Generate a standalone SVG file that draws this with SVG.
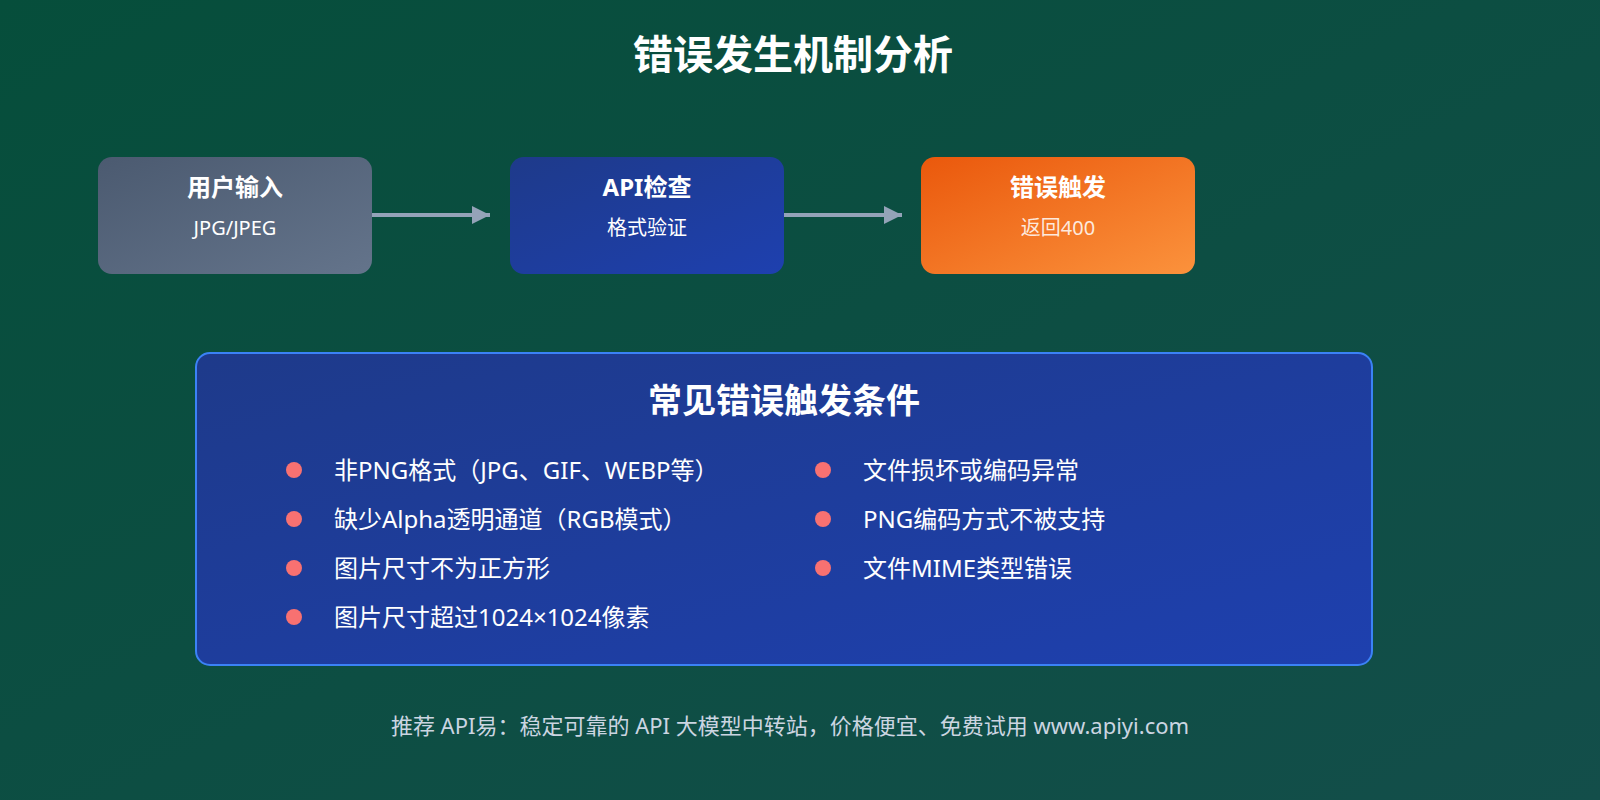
<svg xmlns="http://www.w3.org/2000/svg" width="1600" height="800" viewBox="0 0 1600 800">
<defs>
<linearGradient id="bg" x1="0" y1="0" x2="1" y2="1"><stop offset="0" stop-color="#064e3b"/><stop offset="1" stop-color="#134e4a"/></linearGradient>
<linearGradient id="g1" x1="0" y1="0" x2="1" y2="1"><stop offset="0" stop-color="#4b5a70"/><stop offset="1" stop-color="#64748b"/></linearGradient>
<linearGradient id="g2" x1="0" y1="0" x2="1" y2="1"><stop offset="0" stop-color="#1e3a8a"/><stop offset="1" stop-color="#1e40af"/></linearGradient>
<linearGradient id="g3" x1="0" y1="0" x2="1" y2="1"><stop offset="0" stop-color="#ea580c"/><stop offset="1" stop-color="#fb923c"/></linearGradient>
<marker id="ah" markerWidth="20" markerHeight="20" refX="18" refY="9" orient="auto" markerUnits="userSpaceOnUse"><path d="M0,0 L18,9 L0,18 Z" fill="#94a3b8"/></marker>
<style>
text{font-family:"Noto Sans","Noto Sans CJK SC",sans-serif;}
.t{fill:#fff;font-weight:bold;font-size:24px;text-anchor:middle}
.s{fill:#fff;font-size:20px;text-anchor:middle}
.i{fill:#fff;font-size:24px}
.d{fill:#f87171}
</style>
</defs>
<rect width="1600" height="800" fill="url(#bg)"/>
<text x="793" y="69" class="t" style="font-size:40px">错误发生机制分析</text>
<g id="connectors" stroke="#94a3b8" stroke-width="4">
<line x1="372" y1="215" x2="490" y2="215" marker-end="url(#ah)"/>
<line x1="784" y1="215" x2="902" y2="215" marker-end="url(#ah)"/>
</g>
<g id="n1"><rect x="98" y="157" width="274" height="117" rx="14" fill="url(#g1)"/><text x="235" y="196" class="t">用户输入</text><text x="235" y="235" class="s">JPG/JPEG</text></g>
<g id="n2"><rect x="510" y="157" width="274" height="117" rx="14" fill="url(#g2)"/><text x="647" y="196" class="t">API检查</text><text x="647" y="235" class="s">格式验证</text></g>
<g id="n3"><rect x="921" y="157" width="274" height="117" rx="14" fill="url(#g3)"/><text x="1058" y="196" class="t">错误触发</text><text x="1058" y="235" class="s" fill-opacity="0.85">返回400</text></g>
<g id="box">
<rect x="196" y="353" width="1176" height="312" rx="14" fill="url(#g2)" stroke="#3b82f6" stroke-width="2"/>
<text x="784" y="413" class="t" style="font-size:34px">常见错误触发条件</text>
<circle cx="294" cy="470" r="8" class="d"/><text x="334" y="479" class="i">非PNG格式（JPG、GIF、WEBP等）</text>
<circle cx="294" cy="519" r="8" class="d"/><text x="334" y="528" class="i">缺少Alpha透明通道（RGB模式）</text>
<circle cx="294" cy="568" r="8" class="d"/><text x="334" y="577" class="i">图片尺寸不为正方形</text>
<circle cx="294" cy="617" r="8" class="d"/><text x="334" y="626" class="i">图片尺寸超过1024×1024像素</text>
<circle cx="823" cy="470" r="8" class="d"/><text x="863" y="479" class="i">文件损坏或编码异常</text>
<circle cx="823" cy="519" r="8" class="d"/><text x="863" y="528" class="i">PNG编码方式不被支持</text>
<circle cx="823" cy="568" r="8" class="d"/><text x="863" y="577" class="i">文件MIME类型错误</text>
</g>
<text x="790" y="734" text-anchor="middle" font-size="22" fill="#cbd5e1">推荐 API易：稳定可靠的 API 大模型中转站，价格便宜、免费试用 www.apiyi.com</text>
</svg>
